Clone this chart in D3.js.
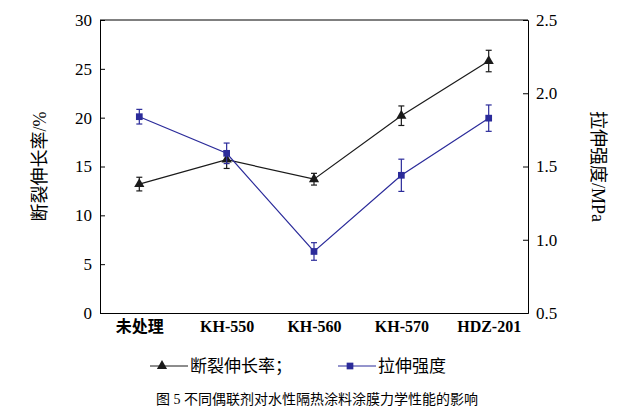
<!DOCTYPE html><html><head><meta charset="utf-8"><script src="https://cdn.jsdelivr.net/npm/d3@7"></script>
<style>body{margin:0;background:#fff}text{font-family:"Times New Roman","Liberation Serif","Noto Sans CJK SC",serif}</style></head><body><svg width="634" height="419"></svg><script>
const categories=["未处理","KH-550","KH-560","KH-570","HDZ-201"];
const elong=[13.2,15.7,13.7,20.2,25.8];
const elongErr=[0.7,0.9,0.6,1.0,1.1];
const strength=[1.84,1.59,0.92,1.44,1.83];
const strengthErr=[0.05,0.07,0.06,0.11,0.09];
const leftTicks=[0,5,10,15,20,25,30];
const rightTicks=[0.5,1.0,1.5,2.0,2.5];
const svg=d3.select("svg");
const L=100,R=528,T=20,B=313;
const x=d3.scalePoint().domain(categories).range([L,R]).padding(0.45);
const yL=d3.scaleLinear().domain([0,30]).range([B,T]);
const yR=d3.scaleLinear().domain([0.5,2.5]).range([B,T]);
const g=svg.append("g");
const ax=g.append("g").attr("transform",`translate(0,${B})`).call(d3.axisBottom(x).tickSize(0).tickPadding(8));
ax.selectAll("text").attr("font-size",16).attr("font-weight","bold").attr("fill","#000");
const al=g.append("g").attr("transform",`translate(${L},0)`).call(d3.axisLeft(yL).tickValues(leftTicks).tickSize(-5).tickPadding(8));
al.selectAll("text").attr("font-size",17);
const ar=g.append("g").attr("transform",`translate(${R},0)`).call(d3.axisRight(yR).tickValues(rightTicks).tickFormat(d3.format(".1f")).tickSize(-5).tickPadding(8));
ar.selectAll("text").attr("font-size",17);
g.append("line").attr("x1",L).attr("x2",R).attr("y1",T).attr("y2",T).attr("stroke","#000");
svg.selectAll(".domain,.tick line").attr("stroke","#000");
function series(vals,errs,y,color,shape){
 const pts=vals.map((v,i)=>[x(categories[i]),y(v)]);
 svg.append("path").attr("d",d3.line()(pts)).attr("fill","none").attr("stroke",color).attr("stroke-width",1.2);
 vals.forEach((v,i)=>{const cx=x(categories[i]);
  const e=svg.append("g").attr("stroke",color).attr("stroke-width",1.2);
  e.append("line").attr("x1",cx).attr("x2",cx).attr("y1",y(v-errs[i])).attr("y2",y(v+errs[i]));
  [v-errs[i],v+errs[i]].forEach(t=>e.append("line").attr("x1",cx-3).attr("x2",cx+3).attr("y1",y(t)).attr("y2",y(t)));
 });
 svg.selectAll(null).data(pts).enter().append("path").attr("transform",d=>`translate(${d[0]},${d[1]})`)
  .attr("d",d3.symbol().type(shape).size(45)).attr("fill",color);
}
series(elong,elongErr,yL,"#1a1a1a",d3.symbolTriangle);
series(strength,strengthErr,yR,"#2b2b9a",d3.symbolSquare);
svg.append("text").attr("transform",`translate(46,${(T+B)/2}) rotate(-90)`).attr("text-anchor","middle").attr("font-size",18).text("断裂伸长率/%");
svg.append("text").attr("transform",`translate(592,${(T+B)/2}) rotate(90)`).attr("text-anchor","middle").attr("font-size",18).text("拉伸强度/MPa");
const lg=svg.append("g");
lg.append("line").attr("x1",150).attr("x2",188).attr("y1",366).attr("y2",366).attr("stroke","#1a1a1a");
lg.append("path").attr("transform","translate(162,366)").attr("d",d3.symbol().type(d3.symbolTriangle).size(45)).attr("fill","#1a1a1a");
lg.append("text").attr("x",190).attr("y",372).attr("font-size",17).text("断裂伸长率；");
lg.append("line").attr("x1",338).attr("x2",376).attr("y1",366).attr("y2",366).attr("stroke","#2b2b9a");
lg.append("path").attr("transform","translate(350,366)").attr("d",d3.symbol().type(d3.symbolSquare).size(45)).attr("fill","#2b2b9a");
lg.append("text").attr("x",378).attr("y",372).attr("font-size",17).text("拉伸强度");
svg.append("text").attr("x",317).attr("y",404).attr("text-anchor","middle").attr("font-size",14).text("图 5  不同偶联剂对水性隔热涂料涂膜力学性能的影响");
</script></body></html>
